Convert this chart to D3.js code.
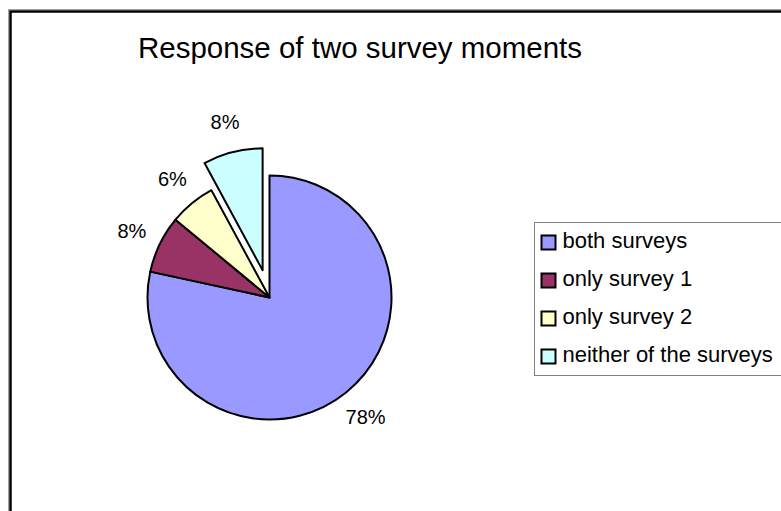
<!DOCTYPE html>
<html>
<head>
<meta charset="utf-8">
<script src="https://cdn.jsdelivr.net/npm/d3@7"></script>
<style>
    body { margin: 0; background: #fff; }
    svg { display: block; font-family: "Liberation Sans", Arial, sans-serif; }
</style>
</head>
<body>
<div id="chart"></div>
<script>

// data
const title = 'Response of two survey moments';
const categories = ['both surveys', 'only survey 1', 'only survey 2', 'neither of the surveys'];
const shares = [78.4, 7.6, 6.1, 7.9];
const colors = ['#9999ff', '#993366', '#ffffcc', '#ccffff'];
const explodedSlice = 'neither of the surveys';

const width = 781,
    height = 511,
    center = {x: 269.5, y: 297.5},
    radius = 122,
    explode = 28,
    labelRadius = 153;

const svg = d3.select('#chart').append('svg')
    .attr('width', width)
    .attr('height', height);

// chart frame (runs off the right and bottom edges)
svg.append('rect')
    .attr('x', 8.5).attr('y', 9.5)
    .attr('width', 900).attr('height', 600)
    .attr('fill', 'none')
    .attr('stroke', '#a0a0a0')
    .attr('stroke-width', 1);

svg.append('rect')
    .attr('x', 10.5).attr('y', 11.5)
    .attr('width', 900).attr('height', 600)
    .attr('fill', 'none')
    .attr('stroke', '#000')
    .attr('stroke-width', 2.5);

// title is a little condensed in the original
svg.append('text')
    .attr('x', 360)
    .attr('y', 58)
    .attr('text-anchor', 'middle')
    .attr('font-size', 30)
    .attr('textLength', 444)
    .attr('lengthAdjust', 'spacingAndGlyphs')
    .attr('fill', '#000')
    .text(title);

const data = categories.map((c, i) => ({name: c, value: shares[i]}));
const total = d3.sum(shares);

const pie = d3.pie()
    .sort(null)
    .value(d => d.value);

const arc = d3.arc()
    .innerRadius(0)
    .outerRadius(radius);

const color = d3.scaleOrdinal()
    .domain(categories)
    .range(colors);

const arcs = pie(data);

function midAngle(d) {
    return (d.startAngle + d.endAngle) / 2;
}

function offset(d) {
    if (d.data.name !== explodedSlice) return [0, 0];
    const a = midAngle(d);
    return [Math.sin(a) * explode, -Math.cos(a) * explode];
}

const g = svg.append('g')
    .attr('transform', 'translate(' + center.x + ',' + center.y + ')');

const slice = g.selectAll('.slice')
    .data(arcs)
    .enter().append('g')
    .attr('class', 'slice')
    .attr('transform', d => 'translate(' + offset(d) + ')');

slice.append('path')
    .attr('d', arc)
    .attr('fill', d => color(d.data.name))
    .attr('stroke', '#000')
    .attr('stroke-width', 2)
    .attr('stroke-linejoin', 'round');

slice.append('text')
    .attr('x', d => Math.sin(midAngle(d)) * labelRadius)
    .attr('y', d => -Math.cos(midAngle(d)) * labelRadius)
    .attr('dy', '0.35em')
    .attr('text-anchor', 'middle')
    .attr('font-size', 20)
    .attr('fill', '#000')
    .text(d => Math.round(d.data.value / total * 100) + '%');

// legend
const legend = svg.append('g')
    .attr('transform', 'translate(534.5,222.5)');

legend.append('rect')
    .attr('width', 400)
    .attr('height', 153)
    .attr('fill', '#fff')
    .attr('stroke', '#808080')
    .attr('stroke-width', 1);

const item = legend.selectAll('.item')
    .data(categories)
    .enter().append('g')
    .attr('class', 'item')
    .attr('transform', (d, i) => 'translate(0,' + (25 + i * 38) + ')');

item.append('rect')
    .attr('x', 7)
    .attr('y', -12)
    .attr('width', 14)
    .attr('height', 14)
    .attr('fill', d => color(d))
    .attr('stroke', '#000')
    .attr('stroke-width', 2);

item.append('text')
    .attr('x', 28)
    .attr('y', 0)
    .attr('font-size', 22)
    .attr('fill', '#000')
    .text(d => d);

</script>
</body>
</html>
